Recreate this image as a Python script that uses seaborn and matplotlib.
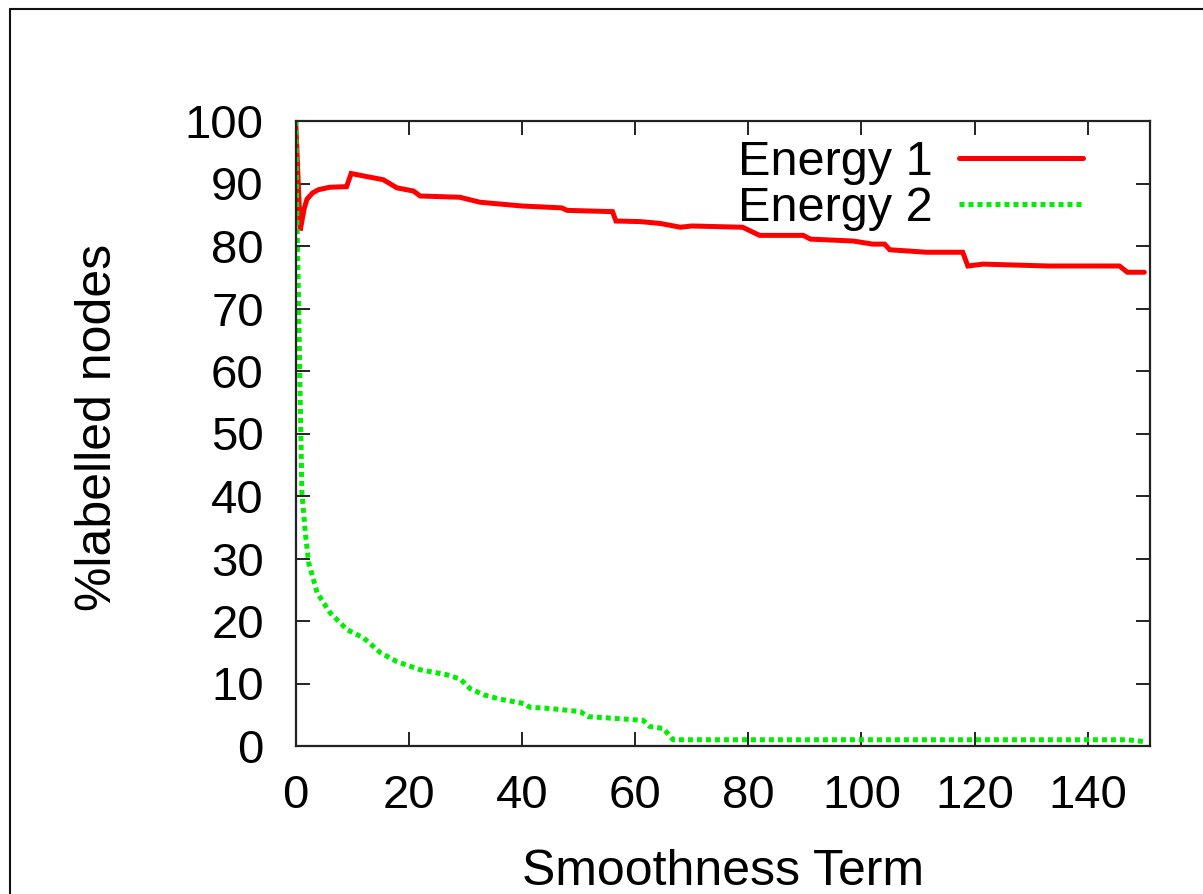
import matplotlib
matplotlib.use("Agg")
import matplotlib.pyplot as plt
import seaborn as sns
import pandas as pd
from matplotlib.lines import Line2D

# ---- data ----
energy1_x = [0, 0.8, 1.5, 2, 3, 4, 6, 9, 9.8, 12.6, 15.5, 17.9, 20.8, 22, 29, 32.6,
             40, 47, 48, 56, 56.6, 61, 64.5, 68, 70, 79, 82, 89.7, 91, 98.5, 102,
             104.1, 105, 111.5, 117.9, 118.8, 121.5, 133, 145.6, 147, 150]
energy1_y = [100, 82.5, 86, 87.5, 88.5, 89, 89.4, 89.5, 91.6, 91.1, 90.6, 89.3, 88.8,
             88.0, 87.8, 87.0, 86.4, 86.1, 85.7, 85.5, 84.0, 83.9, 83.6, 83.0, 83.2,
             83.0, 81.7, 81.7, 81.1, 80.8, 80.3, 80.3, 79.4, 79.0, 79.0, 76.8, 77.1,
             76.8, 76.8, 75.8, 75.8]

energy2_x = [0, 0.2, 0.5, 0.8, 1.1, 1.7, 2.3, 3.8, 6.1, 9.1, 12, 15, 17.9, 22, 26.7,
             29.1, 30.8, 33.2, 36.1, 40.3, 41.4, 45, 50.3, 51.7, 56.7, 61.4, 62.6,
             65, 66.7, 147, 150]
energy2_y = [100, 85, 71.5, 55.4, 40.5, 34.1, 29.3, 24.5, 21.3, 18.6, 17.3, 14.9, 13.5,
             12.2, 11.4, 10.7, 9.2, 8.2, 7.5, 6.8, 6.2, 6.0, 5.5, 4.7, 4.4, 4.1, 3.1,
             2.8, 1.0, 1.0, 0.7]

series_names = ["Energy 1", "Energy 2"]
x_ticks = [0, 20, 40, 60, 80, 100, 120, 140]
y_ticks = [0, 10, 20, 30, 40, 50, 60, 70, 80, 90, 100]
x_label = "Smoothness Term"
y_label = "%labelled nodes"

# ---- style ----
sns.set_theme(style="white")
plt.rcParams['font.family'] = ['Liberation Sans', 'DejaVu Sans']
plt.rcParams['text.color'] = 'black'
plt.rcParams['xtick.color'] = 'black'
plt.rcParams['ytick.color'] = 'black'
plt.rcParams['axes.labelcolor'] = 'black'
FS_TICK = 34
FS_LABEL = 36
FS_LEG = 35

fig = plt.figure(figsize=(12.03, 8.94), dpi=100)
ax = fig.add_axes([295.7 / 1203, 148 / 894, (1150 - 295.7) / 1203, (746 - 121) / 894])

df1 = pd.DataFrame({"x": energy1_x, "y": energy1_y})
df2 = pd.DataFrame({"x": energy2_x, "y": energy2_y})

sns.lineplot(data=df1, x="x", y="y", ax=ax, color="#ff0000", lw=3.6,
             sort=False, estimator=None, label=series_names[0], legend=False)
sns.lineplot(data=df2, x="x", y="y", ax=ax, color="#00ee00", lw=3.6,
             sort=False, estimator=None, label=series_names[1], legend=False)
ax.lines[1].set_linestyle((0, (1.0, 0.8)))
ax.lines[1].set_dash_capstyle("butt")
ax.lines[0].set_solid_joinstyle("miter")

ax.set_xlim(0, 151)
ax.set_ylim(0, 100)
ax.set_xticks(x_ticks)
ax.set_yticks(y_ticks)
ax.tick_params(direction="in", length=10, width=1.4, color="#222222",
               labelsize=FS_TICK, labelcolor="black", top=True, right=True, bottom=True, left=True,
               labeltop=False, labelright=False)
ax.tick_params(axis="x", pad=20)
ax.tick_params(axis="y", pad=23)
for s in ax.spines.values():
    s.set_visible(True)
    s.set_color("#222222")
    s.set_linewidth(1.6)

ax.set_xlabel(x_label, fontsize=FS_LABEL, color="black")
ax.set_ylabel(y_label, fontsize=FS_LABEL, color="black")
ax.xaxis.set_label_coords(0.5, -0.165)
ax.yaxis.set_label_coords(-0.205, 0.51)

handles = [Line2D([], [], color="#ff0000", lw=3.6),
           Line2D([], [], color="#00ee00", lw=3.6, linestyle=(0, (1.0, 0.8)),
                  dash_capstyle="butt")]
ax.legend(handles, series_names, loc="upper right", bbox_to_anchor=(0.9274, 0.978),
          frameon=False, fontsize=FS_LEG, markerfirst=False, handlelength=2.55,
          handletextpad=0.55, labelspacing=0.03, borderpad=0.1, borderaxespad=0)

# outer frame (partially visible, as in the reference)
fig.add_artist(Line2D([10 / 1203, 10 / 1203], [0, 1 - 9 / 894], transform=fig.transFigure,
                      color="#111111", lw=1.5))
fig.add_artist(Line2D([10 / 1203, 1], [1 - 9 / 894, 1 - 9 / 894], transform=fig.transFigure,
                      color="#111111", lw=1.5))

fig.savefig("out.png", dpi=100)
